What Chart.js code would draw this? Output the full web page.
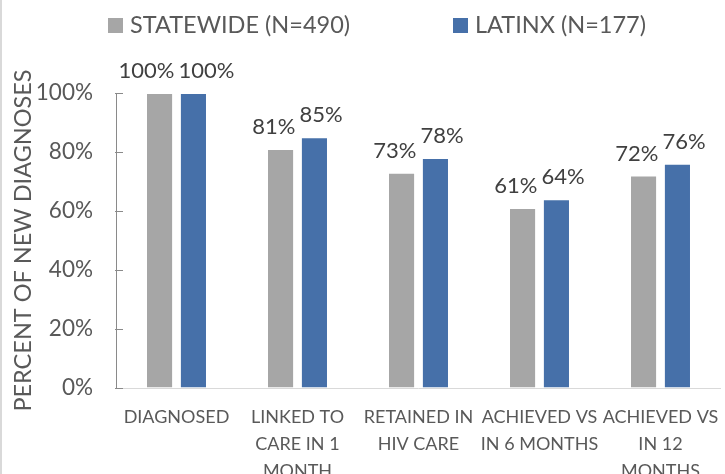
<!DOCTYPE html>
<html><head><meta charset="utf-8">
<script src="https://cdn.jsdelivr.net/npm/chart.js@4.4.1/dist/chart.umd.min.js"></script>
<style>
html,body{margin:0;padding:0;background:#fff;overflow:hidden;width:725px;height:474px}
#wrap{position:relative;width:735px;height:474px}
</style>
</head><body><div id="wrap"><canvas id="c" width="735" height="474"></canvas></div>
<script>
// ---- data ----
const categories = [["DIAGNOSED"], ["LINKED TO", "CARE IN 1", "MONTH"], ["RETAINED IN", "HIV CARE"], ["ACHIEVED VS", "IN 6 MONTHS"], ["ACHIEVED VS", "IN 12", "MONTHS"]];
const seriesNames = ["STATEWIDE (N=490)", "LATINX (N=177)"];
const statewide = [100, 81, 73, 61, 72];
const latinx = [100, 85, 78, 64, 76];
const yTicks = [0, 20, 40, 60, 80, 100];
const yTitle = "PERCENT OF NEW DIAGNOSES";

// ---- style ----
const FONT = "Lato, 'Open Sans', sans-serif";
const GRAY = "#A6A6A6", BLUE = "#4670A9";
const TEXT = "#595959", LABEL = "#404040";

const framePlugin = {
  id: 'frame',
  beforeDraw(chart) {
    const ctx = chart.ctx;
    ctx.save();
    ctx.fillStyle = '#fff';
    ctx.fillRect(0, 0, chart.width, chart.height);
    ctx.fillStyle = '#d9d9d9';
    ctx.fillRect(0, 0, 2, chart.height);
    ctx.restore();
  }
};

const legendPlugin = {
  id: 'customLegend',
  afterDraw(chart) {
    const ctx = chart.ctx;
    const starts = [108, 453];
    ctx.save();
    ctx.font = "23.5px " + FONT;
    ctx.textBaseline = 'middle';
    ctx.textAlign = 'left';
    chart.data.datasets.forEach((ds, i) => {
      const x = starts[i];
      ctx.fillStyle = ds.backgroundColor;
      ctx.fillRect(x, 18, 15, 15);
      ctx.fillStyle = TEXT;
      ctx.fillText(ds.label, x + 22, 25);
    });
    ctx.restore();
  }
};

const tickMarkPlugin = {
  id: 'tickMarks',
  afterDraw(chart) {
    const s = chart.scales.y, ctx = chart.ctx;
    ctx.save();
    ctx.strokeStyle = '#8a8a8a';
    ctx.lineWidth = 1;
    s.ticks.forEach(t => {
      const y = Math.round(s.getPixelForValue(t.value)) + 0.5;
      ctx.beginPath();
      ctx.moveTo(s.right - 1, y);
      ctx.lineTo(s.right + 7, y);
      ctx.stroke();
    });
    ctx.restore();
  }
};

// data labels above bars; labels of one category are pushed apart when they would overlap
const dataLabelPlugin = {
  id: 'dataLabels',
  afterDatasetsDraw(chart) {
    const ctx = chart.ctx;
    ctx.save();
    ctx.font = "22px " + FONT;
    ctx.fillStyle = LABEL;
    ctx.textAlign = 'center';
    ctx.textBaseline = 'alphabetic';
    const m0 = chart.getDatasetMeta(0), m1 = chart.getDatasetMeta(1);
    const d0 = chart.data.datasets[0].data, d1 = chart.data.datasets[1].data;
    m0.data.forEach((b0, i) => {
      const b1 = m1.data[i];
      const t0 = d0[i] + '%', t1 = d1[i] + '%';
      const w0 = ctx.measureText(t0).width, w1 = ctx.measureText(t1).width;
      const need = (w0 + w1) / 2 + 4;
      const dist = b1.x - b0.x;
      const push = Math.max(0, (need - dist) / 2);
      ctx.fillText(t0, b0.x - push, b0.y - 15);
      ctx.fillText(t1, b1.x + push, b1.y - 15);
    });
    ctx.restore();
  }
};

new Chart(document.getElementById('c'), {
  type: 'bar',
  data: {
    labels: categories,
    datasets: [
      { label: seriesNames[0], data: statewide, backgroundColor: GRAY, borderColor: 'rgba(255,255,255,0.45)', borderWidth: 1 },
      { label: seriesNames[1], data: latinx, backgroundColor: BLUE, borderColor: 'rgba(255,255,255,0.35)', borderWidth: 1 }
    ]
  },
  options: {
    responsive: false,
    animation: false,
    devicePixelRatio: 1,
    layout: { padding: { top: 93, right: 7, bottom: 0, left: 0 } },
    datasets: { bar: { categoryPercentage: 0.56, barPercentage: 0.8 } },
    plugins: { legend: { display: false }, tooltip: { enabled: false } },
    scales: {
      x: {
        grid: { display: false, drawTicks: false },
        border: { display: true, color: '#d9d9d9', width: 1 },
        ticks: { color: TEXT, font: { family: FONT, size: 18, lineHeight: 1.5 }, padding: 16, maxRotation: 0, autoSkip: false },
        afterFit(s) { s.height = 86; }
      },
      y: {
        min: 0, max: 100,
        afterBuildTicks(s) { s.ticks = yTicks.map(v => ({ value: v })); },
        grid: { drawOnChartArea: false, drawTicks: false },
        border: { display: true, color: '#8a8a8a', width: 1 },
        ticks: { color: TEXT, font: { family: FONT, size: 22.5 }, padding: 23, callback: v => v + '%' },
        title: { display: true, text: yTitle, color: TEXT, font: { family: FONT, size: 23.5 }, padding: { top: 9, bottom: 0 } },
        afterFit(s) { s.width = 116; }
      }
    }
  },
  plugins: [framePlugin, legendPlugin, tickMarkPlugin, dataLabelPlugin]
});
</script>
</body></html>
